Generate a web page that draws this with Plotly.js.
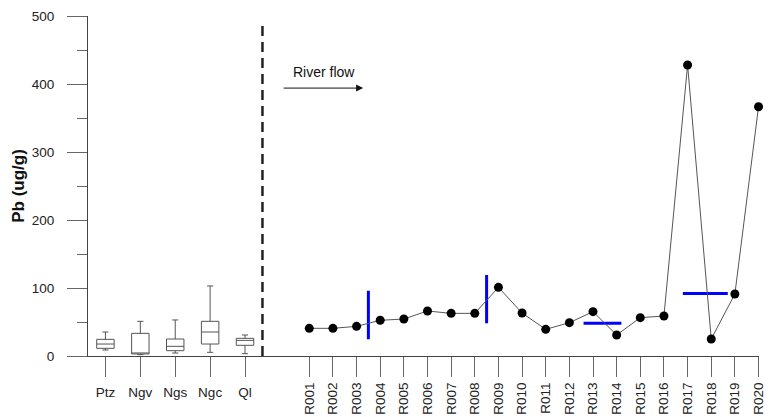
<!DOCTYPE html>
<html>
<head>
<meta charset="utf-8">
<script src="https://cdn.plot.ly/plotly-3.0.1.min.js"></script>
<style>html,body{margin:0;padding:0;background:#fff;}#chart{width:771px;height:417px;}</style>
</head>
<body>
<div id="chart"></div>
<script>
// Box-plot groups
const boxCats = ['Ptz', 'Ngv', 'Ngs', 'Ngc', 'Ql'];
const boxLower = [8.8, 2, 4.4, 5.4, 3.4];
const boxQ1 = [11.3, 3, 7.8, 17.6, 15.7];
const boxMedian = [17.6, 3.6, 14.2, 35.3, 23];
const boxQ3 = [24.5, 33.3, 25, 51, 26];
const boxUpper = [35.3, 51, 53, 103, 30.9];

// River sites
const siteNames = ['R001','R002','R003','R004','R005','R006','R007','R008','R009','R010',
                   'R011','R012','R013','R014','R015','R016','R017','R018','R019','R020'];
const pbValues = [40.7, 40.7, 43.6, 52.5, 54.4, 66.2, 62.7, 62.7, 101, 63.2,
                  39.2, 49, 65.2, 30.9, 56.4, 58.8, 428, 25, 91.2, 366.6];

// Blue marker segments (site-index units, Pb units)
const blueX = [[2.5, 2.5], [7.5, 7.5], [11.6, 13.2], [15.8, 17.7]];
const blueY = [[24.5, 96], [48, 119], [48, 48], [92, 92]];

const siteIdx = siteNames.map((_, i) => i);
const FONT = 'Liberation Sans, Arial, sans-serif';
const AX = '#444';

const traces = [];
traces.push({
  type: 'box', x: boxCats, q1: boxQ1, median: boxMedian, q3: boxQ3,
  lowerfence: boxLower, upperfence: boxUpper,
  boxpoints: false, width: 0.5, whiskerwidth: 0.35,
  fillcolor: '#ffffff', line: {color: '#555', width: 1},
  xaxis: 'x', yaxis: 'y', showlegend: false, hoverinfo: 'skip'
});
blueX.forEach((bx, i) => {
  traces.push({
    type: 'scatter', mode: 'lines', x: bx, y: blueY[i],
    line: {color: '#0000ff', width: 3},
    xaxis: 'x2', yaxis: 'y', showlegend: false, hoverinfo: 'skip'
  });
});
traces.push({
  type: 'scatter', mode: 'lines+markers', x: siteIdx, y: pbValues,
  line: {color: '#555', width: 1},
  marker: {color: '#000', size: 9},
  xaxis: 'x2', yaxis: 'y', showlegend: false, cliponaxis: false
});

const split = 0.26;
const layout = {
  width: 771, height: 417,
  margin: {l: 88, r: 12, t: 16, b: 61},
  paper_bgcolor: '#fff', plot_bgcolor: '#fff',
  font: {family: FONT, size: 13.5, color: '#222'},
  showlegend: false,
  xaxis: {
    domain: [0, split], type: 'category', range: [-0.5, 4.5],
    showline: true, linecolor: AX, linewidth: 1,
    ticks: 'outside', ticklen: 20, tickcolor: '#666', tickwidth: 1,
    showgrid: false, zeroline: false, anchor: 'y',
    tickfont: {family: FONT, size: 13.5, color: '#222'}, ticklabelstandoff: 4
  },
  xaxis2: {
    domain: [split, 1], type: 'linear', range: [-1.98, 19.02],
    tickmode: 'array', tickvals: siteIdx, ticktext: siteNames, tickangle: -90,
    showline: true, linecolor: AX, linewidth: 1,
    ticks: 'outside', ticklen: 20, tickcolor: '#666', tickwidth: 1,
    showgrid: false, zeroline: false, anchor: 'y',
    tickfont: {family: FONT, size: 13.5, color: '#222'}
  },
  yaxis: {
    range: [0, 500], dtick: 100, tick0: 0,
    showline: true, linecolor: AX, linewidth: 1,
    ticks: 'outside', ticklen: 20, tickcolor: '#666', tickwidth: 1,
    minor: {dtick: 50, ticklen: 10, ticks: 'outside', tickcolor: '#666', showgrid: false},
    showgrid: false, zeroline: false,
    ticklabelstandoff: 10,
    tickfont: {family: FONT, size: 13.5, color: '#222'},
    title: {text: '<b>Pb (ug/g)</b>', font: {family: FONT, size: 17, color: '#111'}, standoff: 2}
  },
  shapes: [{
    type: 'line', xref: 'paper', yref: 'y', x0: split, x1: split, y0: 0, y1: 490,
    line: {color: '#222', width: 2.5, dash: '10px,6px'}
  }],
  annotations: [
    {xref: 'paper', yref: 'paper', x: 0.352, y: 0.865, text: 'River flow', showarrow: false,
     font: {family: FONT, size: 14, color: '#111'}},
    {xref: 'paper', yref: 'paper', x: 0.41, y: 0.788, text: '', showarrow: true,
     ax: -81, ay: 0, axref: 'pixel', ayref: 'pixel',
     arrowhead: 2, arrowsize: 1.4, arrowwidth: 1, arrowcolor: '#111'}
  ]
};

Plotly.newPlot('chart', traces, layout, {staticPlot: true, displayModeBar: false});
</script>
</body>
</html>
